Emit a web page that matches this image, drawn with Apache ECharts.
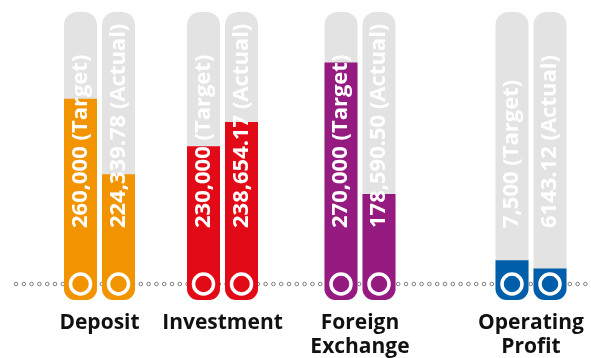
<!DOCTYPE html>
<html>
<head>
<meta charset="utf-8">
<script src="https://cdn.jsdelivr.net/npm/echarts@6/dist/echarts.min.js"></script>
<style>
  html, body { margin: 0; padding: 0; background: #fff; }
  #chart { width: 591px; height: 358px; }
</style>
</head>
<body>
<div id="chart"></div>
<script>
// Business results: target vs. actual per division
const categories = ['Deposit', 'Investment', 'Foreign\nExchange', 'Operating\nProfit'];
const barKinds = ['Target', 'Actual'];
const targetValues = [260000, 230000, 270000, 7500];
const actualValues = [224339.78, 238654.17, 178590.50, 6143.12];
const targetLabels = ['260,000', '230,000', '270,000', '7,500'];
const actualLabels = ['224,339.78', '238,654.17', '178,590.50', '6143.12'];

// Per-division styling and scale ranges (each gauge has its own scale)
const colors = ['#f29400', '#e30a17', '#961b80', '#005eaa'];
const gridLefts = [61.5, 184.5, 322, 493];
const axisMin = [165000, 175000, 105000, 1000];
const axisMax = [301000, 278000, 305000, 48000];

const FONT = '"Open Sans", "Noto Sans", sans-serif';
const chart = echarts.init(document.getElementById('chart'));

const grids = [], xAxes = [], yAxes = [], series = [];

categories.forEach((name, i) => {
  grids.push({
    left: gridLefts[i], width: 76, top: 12, bottom: 58,
    outerBoundsMode: 'none', containLabel: false
  });
  xAxes.push({
    type: 'category', gridIndex: i, data: barKinds,
    axisLine: { show: false }, axisTick: { show: false }, axisLabel: { show: false },
    name: name, nameLocation: 'middle', nameGap: 11,
    nameTextStyle: {
      fontFamily: FONT, fontWeight: 'bold', fontSize: 21, color: '#111',
      lineHeight: 24
    }
  });
  yAxes.push({
    type: 'value', gridIndex: i, min: axisMin[i], max: axisMax[i],
    show: false, splitLine: { show: false }
  });
  const texts = [targetLabels[i] + ' (Target)', actualLabels[i] + ' (Actual)'];
  series.push({
    type: 'bar', xAxisIndex: i, yAxisIndex: i, z: 3,
    barWidth: 33,
    data: [targetValues[i], actualValues[i]],
    itemStyle: { color: colors[i], borderRadius: [0, 0, 11, 11] },
    showBackground: true,
    backgroundStyle: { color: '#e3e3e3', borderRadius: 13 },
    label: {
      show: true, position: 'insideBottom', distance: 72,
      rotate: 90, align: 'left', verticalAlign: 'middle',
      color: '#fff', fontFamily: FONT, fontWeight: 'bold', fontSize: 22,
      formatter: p => texts[p.dataIndex]
    },
    silent: true, animation: false
  });
  // ring markers sitting at the foot of each bar
  series.push({
    type: 'scatter', xAxisIndex: i, yAxisIndex: i, z: 5,
    data: [axisMin[i], axisMin[i]],
    symbol: 'circle', symbolSize: 20, symbolOffset: [0, -16],
    itemStyle: { color: colors[i], borderColor: '#fff', borderWidth: 3.5, opacity: 1 },
    clip: false, silent: true, animation: false
  });
});

// dotted baseline of small hollow circles
const dots = [];
for (let x = 16; x <= 591; x += 7.8) {
  dots.push({
    type: 'circle', z: 0, silent: true,
    shape: { cx: x, cy: 284, r: 1.8 },
    style: { fill: '#fff', stroke: '#808080', lineWidth: 1 }
  });
}

chart.setOption({
  animation: false,
  backgroundColor: '#fff',
  graphic: { elements: dots },
  grid: grids,
  xAxis: xAxes,
  yAxis: yAxes,
  series: series
});
</script>
</body>
</html>
